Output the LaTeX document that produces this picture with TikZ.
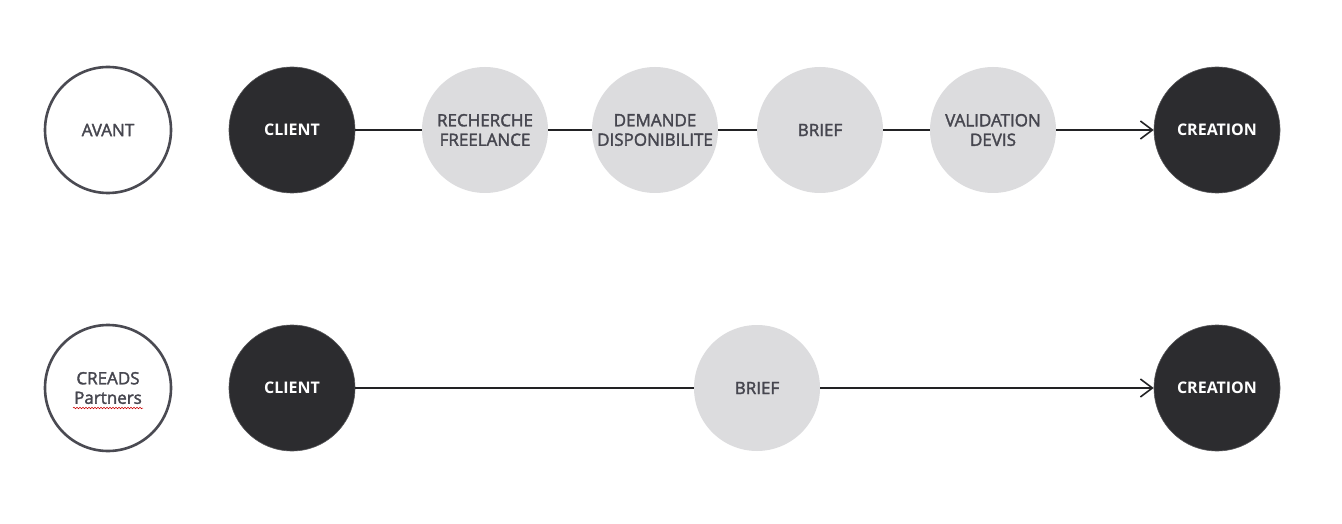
\documentclass[tikz,border=0pt]{standalone}
\usepackage{fontspec}
\setmainfont{Open Sans}
\newfontfamily\semiface{Open Sans}[FakeBold=2]
\usetikzlibrary{arrows.meta,calc,decorations.pathmorphing}
\definecolor{darkdisc}{HTML}{2C2C2F}
\definecolor{greydisc}{HTML}{DCDCDE}
\definecolor{greytext}{HTML}{46464F}
\definecolor{ringline}{HTML}{4A4A52}
\definecolor{linkline}{HTML}{222224}
\tikzset{every step/.style={circle,minimum size=126pt,inner sep=0pt,align=center},
        ringstep/.style = {every step, draw=ringline, line width=2.6pt, fill=white,
                           text=greytext, font=\semiface\fontsize{17}{19.5}\selectfont},
        darkstep/.style = {every step, fill=darkdisc, draw=darkdisc!80!white, line width=0.6pt,
                           text=white, font=\fontsize{16}{19}\selectfont\bfseries},
        greystep/.style = {every step, fill=greydisc,
                           text=greytext, font=\semiface\fontsize{17}{19.5}\selectfont},
        link/.style = {draw=linkline, line width=1.6pt},
        linkarrow/.style = {link, -{Straight Barb[length=12pt,width=18pt,line width=1.6pt]}},
        }

\begin{document}
\begin{tikzpicture}[x=1pt,y=1pt]
    \useasboundingbox (0,0) rectangle (1342,523);

    % avant
    \node [ringstep] (avant) at (108,393) {AVANT};
    \node [darkstep] (client) at (292,393) {CLIENT};
    \node [greystep] (recherche) at (485,393) {RECHERCHE\\FREELANCE};
    \node [greystep] (demande) at (655,393) {DEMANDE\\DISPONIBILITE};
    \node [greystep] (brief) at (820,393) {BRIEF};
    \node [greystep] (validation) at (993,393) {VALIDATION\\DEVIS};
    \node [darkstep] (creation) at (1217,393) {CREATION};

    \draw [link] (client) -- (recherche);
    \draw [link] (recherche) -- (demande);
    \draw [link] (demande) -- (brief);
    \draw [link] (brief) -- (validation);
    \draw [linkarrow] (validation) -- (creation);

    % creads
    \node [ringstep] (creads) at (108,135) {CREADS\\Partners};
    \node [darkstep] (client2) at (292,135) {CLIENT};
    \node [greystep] (brief2) at (757,135) {BRIEF};
    \node [darkstep] (creation2) at (1217,135) {CREATION};

    \draw [link] (client2) -- (brief2);
    \draw [linkarrow] (brief2) -- (creation2);

    \draw [red!80!black, line width=0.5pt, decorate,
           decoration={snake,amplitude=0.8pt,segment length=3pt}]
        ($(creads.center)+(-35,-20)$) -- ($(creads.center)+(35,-20)$);

\end{tikzpicture}
\end{document}
